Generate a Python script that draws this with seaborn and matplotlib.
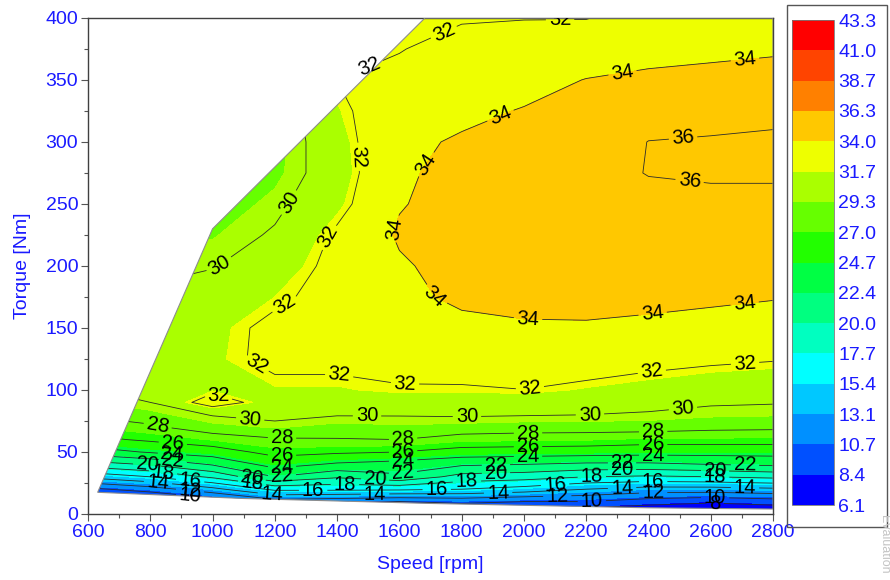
import numpy as np
import matplotlib
matplotlib.use("Agg")
import matplotlib.pyplot as plt
import seaborn as sns
from matplotlib.patches import Polygon, Rectangle
from matplotlib.colors import ListedColormap, BoundaryNorm
from matplotlib.ticker import MultipleLocator

# Operating grid
speed_rpm = [600, 800, 1000, 1200, 1400, 1600, 1800, 2000, 2200, 2400, 2600, 2800]
torque_nm = [0, 10, 20, 30, 40, 50, 60, 70, 80, 90, 100,
             125, 150, 175, 200, 225, 250, 275, 300, 325, 350, 375, 400]

# Efficiency [%], one row per torque value, one column per speed
efficiency = [
    [2.5, 3.0, 4.0, 5.0, 6.0, 6.0, 7.0, 6.5, 6.0, 5.5, 5.0, 5.5],
    [5.5, 6.5, 8.5, 11.0, 10.5, 10.0, 10.5, 10.0, 10.0, 9.0, 8.4, 9.0],
    [9.5, 11.0, 13.4, 16.5, 16.5, 16.4, 16.0, 15.2, 14.0, 13.2, 13.2, 13.6],
    [14.5, 16.0, 18.4, 22.0, 20.3, 21.6, 19.25, 18.9, 18.0, 17.7, 18.0, 18.5],
    [19.0, 20.2, 22.2, 24.8, 23.7, 23.2, 22.3, 22.0, 21.6, 21.6, 22.0, 22.4],
    [23.0, 24.2, 25.1, 26.6, 26.3, 26.0, 25.25, 25.1, 25.0, 24.8, 24.8, 24.8],
    [25.5, 26.3, 27.1, 27.8, 27.9, 28.0, 27.3, 27.2, 27.1, 26.8, 26.8, 26.8],
    [27.0, 27.7, 28.9, 29.4, 28.9, 29.1, 28.9, 28.7, 28.7, 28.7, 28.4, 28.3],
    [28.2, 28.9, 30.1, 30.6, 30.1, 30.1, 30.2, 30.1, 30.0, 29.8, 29.5, 29.4],
    [29.2, 30.0, 33.0, 31.0, 30.9, 31.0, 31.0, 31.0, 30.8, 30.6, 30.2, 30.1],
    [29.9, 30.6, 31.6, 31.6, 31.6, 31.9, 31.85, 31.98, 31.6, 31.3, 30.9, 30.8],
    [30.3, 31.0, 31.5, 32.4, 32.4, 32.4, 32.7, 33.0, 32.9, 32.5, 32.3, 32.1],
    [30.3, 30.9, 31.4, 32.4, 32.6, 32.9, 33.6, 33.8, 33.8, 33.6, 33.4, 33.2],
    [30.0, 30.3, 30.9, 31.7, 32.6, 33.6, 34.3, 34.5, 34.6, 34.5, 34.3, 34.1],
    [29.5, 29.6, 29.9, 31.0, 32.5, 33.8, 34.6, 34.8, 35.0, 35.0, 34.9, 34.8],
    [29.2, 29.2, 29.2, 30.2, 32.3, 34.2, 34.7, 35.0, 35.2, 35.3, 35.4, 35.3],
    [29.0, 29.0, 28.6, 29.6, 31.4, 33.9, 34.6, 35.1, 35.4, 35.6, 35.8, 35.7],
    [29.0, 29.0, 28.5, 29.0, 31.0, 33.8, 34.4, 35.0, 35.5, 36.05, 36.1, 36.15],
    [29.0, 29.0, 28.5, 28.8, 31.2, 33.6, 34.2, 34.7, 35.3, 36.02, 36.1, 36.2],
    [29.0, 29.0, 28.8, 28.8, 31.6, 33.2, 33.6, 34.1, 34.8, 35.5, 35.6, 35.7],
    [29.0, 29.0, 29.0, 29.0, 32.0, 32.3, 33.0, 33.4, 34.05, 34.4, 34.5, 34.6],
    [29.0, 29.0, 29.0, 29.5, 31.9, 31.95, 32.4, 32.7, 33.0, 33.3, 33.6, 33.8],
    [29.0, 29.0, 29.0, 30.0, 31.7, 31.7, 31.9, 31.95, 31.95, 32.6, 33.1, 33.3],
]

# Operating range: full-load line on top, minimum-load line at the bottom
boundary_speed = [631, 1000, 1682, 2800, 2800, 2400, 1700, 1100]
boundary_torque = [17.5, 230, 400, 400, 4, 5, 8.5, 12.5]

# Colour bands
fill_levels = [6.1, 8.4, 10.7, 13.1, 15.4, 17.7, 20.0, 22.4, 24.7,
               27.0, 29.3, 31.7, 34.0, 36.3, 38.7, 41.0, 43.3]
band_colors = ['#0000ff', '#0050ff', '#0090ff', '#00c8ff', '#00ffff', '#00ffc0',
               '#00ff80', '#00ff44', '#22ff00', '#66ff00', '#aaff00', '#eeff00',
               '#ffc800', '#ff8000', '#ff4400', '#ff0000']
line_levels = [8, 10, 12, 14, 16, 18, 20, 22, 24, 26, 28, 30, 32, 34, 36]

# Where the iso-line labels sit (speed, torque)
label_spots = [
    (1522, 351), (1740, 390), (2116, 399),
    (1464, 288), (1355, 225), (1223, 172), (1130, 116), (1403, 106), (1618, 105),
    (2020, 100), (2411, 114), (2710, 122), (1020, 97),
    (1239, 252), (1024, 200),
    (2315, 358), (2710, 366), (1915, 327), (1644, 289), (1556, 232), (1692, 172),
    (2013, 156), (2414, 160), (2710, 167),
    (2511, 303), (2533, 271),
    (1120, 74), (1496, 79), (1817, 78), (2212, 80), (2511, 84),
    (825, 73), (1223, 62), (1612, 60), (2013, 65), (2415, 66),
    (873, 59), (1223, 46), (1612, 50), (2013, 54), (2415, 56),
    (870, 50), (1223, 37), (1612, 43), (2013, 46), (2415, 46),
    (873, 44), (1223, 30), (1612, 32), (1910, 40), (2315, 41), (2710, 40),
    (790, 40), (1127, 30), (1522, 27), (1910, 34), (2315, 35), (2614, 35),
    (841, 34), (1127, 25), (1425, 23), (1817, 25), (2218, 30), (2614, 30),
    (928, 27), (1323, 18), (1720, 19), (2100, 24), (2415, 26),
    (825, 26), (1190, 15), (1522, 16.5), (1917, 17), (2315, 22), (2710, 22),
    (928, 20), (2107, 15), (2415, 17),
    (928, 15), (2218, 10), (2614, 13),
    (2614, 9),
]

sns.set_theme(style="ticks")
plt.rcParams['font.family'] = ['Liberation Sans', 'DejaVu Sans']

blue = '#1a1aff'
fig = plt.figure(figsize=(8.9, 5.8), dpi=100)
ax = fig.add_axes([0.0989, 0.1138, 0.7697, 0.8552])

Z = np.array(efficiency)
cmap = ListedColormap(band_colors)
norm = BoundaryNorm(fill_levels, cmap.N)

cf = ax.contourf(speed_rpm, torque_nm, Z, levels=fill_levels, cmap=cmap, norm=norm)
cs = ax.contour(speed_rpm, torque_nm, Z, levels=line_levels, colors='#2b2b2b',
                linewidths=0.6)

region = Polygon(np.column_stack([boundary_speed, boundary_torque]), closed=True,
                 facecolor='none', edgecolor='#8c8c8c', linewidth=0.8,
                 transform=ax.transData, zorder=3)
ax.add_patch(region)
cf.set_clip_path(region)
cs.set_clip_path(region)

labels = ax.clabel(cs, manual=label_spots, inline=True, inline_spacing=3, fmt='%d',
                   fontsize=14.5, colors='black')
cs.set_clip_path(region)

# the small island label reads level
for t in labels:
    x, y = t.get_position()
    if abs(x - 1020) < 120 and 84 < y < 100:
        t.set_rotation(0)

ax.set_xlim(600, 2800)
ax.set_ylim(0, 400)
ax.set_xticks(np.arange(600, 2801, 200))
ax.set_yticks(np.arange(0, 401, 50))
ax.xaxis.set_minor_locator(MultipleLocator(100))
ax.yaxis.set_minor_locator(MultipleLocator(25))
ax.tick_params(which='major', direction='out', length=5, width=0.8, color='#555555',
               labelcolor=blue, labelsize=14, pad=2)
ax.tick_params(which='minor', direction='out', length=3, width=0.8, color='#555555')
for sp in ax.spines.values():
    sp.set_color('#404040')
    sp.set_linewidth(1.0)

ax.set_xlabel('Speed [rpm]', color=blue, fontsize=14)
ax.set_ylabel('Torque [Nm]', color=blue, fontsize=14)
ax.xaxis.set_label_coords(0.5, -0.085)
ax.yaxis.set_label_coords(-0.083, 0.5)

# Colour legend
frame = Rectangle((0.8843, 0.0914), 0.1124, 0.900, transform=fig.transFigure,
                  fill=False, edgecolor='#555555', linewidth=1.0)
fig.add_artist(frame)
cax = fig.add_axes([0.8899, 0.1293, 0.0472, 0.8362])
cbar = fig.colorbar(cf, cax=cax, ticks=fill_levels)
cbar.ax.set_yticklabels([f"{v:.1f}" for v in fill_levels])
cbar.ax.tick_params(length=0, labelcolor=blue, labelsize=14, pad=3)
cbar.outline.set_linewidth(0.6)
cbar.outline.set_edgecolor('#777777')

fig.text(0.9935, 0.112, 'Evaluation', rotation=270, ha='center', va='top',
         color='#c4c4c4', fontsize=9)

fig.savefig('out.png', dpi=100)
